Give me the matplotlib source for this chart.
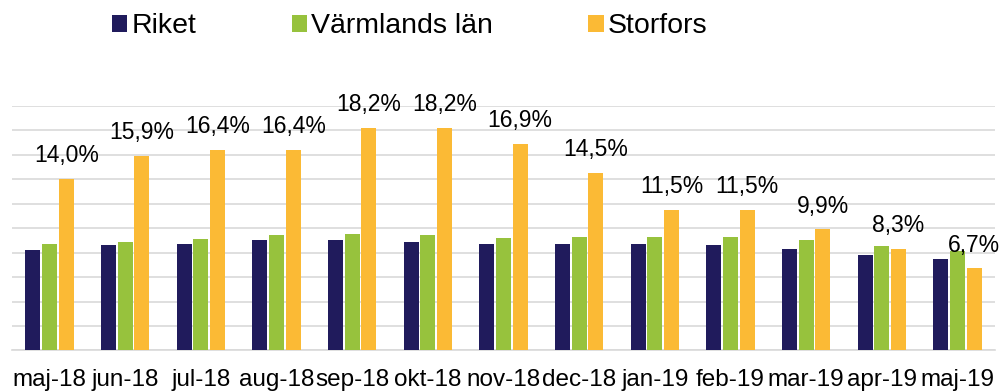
import matplotlib
matplotlib.use("Agg")
import matplotlib.pyplot as plt
import numpy as np

months = ["maj-18", "jun-18", "jul-18", "aug-18", "sep-18", "okt-18", "nov-18",
          "dec-18", "jan-19", "feb-19", "mar-19", "apr-19", "maj-19"]
riket = [8.2, 8.6, 8.7, 9.0, 9.0, 8.9, 8.7, 8.7, 8.7, 8.6, 8.3, 7.8, 7.5]
varmland = [8.7, 8.9, 9.1, 9.4, 9.5, 9.4, 9.2, 9.3, 9.3, 9.3, 9.0, 8.5, 8.1]
storfors = [14.0, 15.9, 16.4, 16.4, 18.2, 18.2, 16.9, 14.5, 11.5, 11.5, 9.9, 8.3, 6.7]

series = [("Riket", riket, "#201B5C"),
          ("Värmlands län", varmland, "#97C23D"),
          ("Storfors", storfors, "#FBBA35")]

plt.rcParams["font.family"] = ["Liberation Sans", "DejaVu Sans"]

fig = plt.figure(figsize=(10.06, 3.92), dpi=100)
ax = fig.add_axes([0.0117, 0.1059, 0.9777, 0.6245])

x = np.arange(len(months))
slot = 0.22
bar_w = 0.198
for i, (name, vals, color) in enumerate(series):
    ax.bar(x + (i - 1) * slot, vals, width=bar_w, color=color, label=name,
           zorder=3)

# value labels above the Storfors bars
for xi, v in zip(x, storfors):
    ax.annotate(f"{v:.1f}%".replace(".", ","), (xi + slot, v),
                xytext=(0, 12), textcoords="offset points",
                ha="center", va="baseline", fontsize=16.5, color="black",
                zorder=4)

ax.set_xlim(-0.5, len(months) - 0.5)
ax.set_ylim(0, 20)
ax.set_yticks(np.arange(0, 21, 2))
ax.yaxis.grid(True, color="#D9D9D9", linewidth=1.2, zorder=0)
ax.set_axisbelow(True)
ax.tick_params(axis="y", left=False, labelleft=False)
ax.set_xticks(x)
ax.set_xticklabels(months, fontsize=17.5)
ax.tick_params(axis="x", length=0, pad=13)
for side in ["top", "right", "left"]:
    ax.spines[side].set_visible(False)
ax.spines["bottom"].set_color("#D9D9D9")
ax.spines["bottom"].set_linewidth(1.2)
ax.spines["bottom"].set_zorder(1)

fig.legend(loc="center left", bbox_to_anchor=(0.111, 0.933), ncol=3,
           frameon=False, fontsize=20.5, handlelength=0.54, handleheight=0.54,
           handletextpad=0.15, columnspacing=3.35, borderpad=0,
           borderaxespad=0)

fig.savefig("out.png", dpi=100)
